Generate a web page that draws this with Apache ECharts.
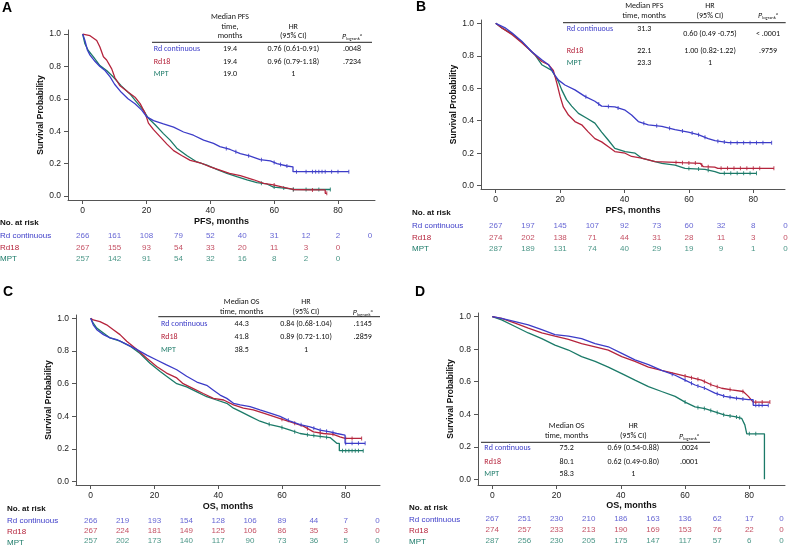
<!DOCTYPE html>
<html><head><meta charset="utf-8">
<script src="https://cdn.jsdelivr.net/npm/echarts@6/dist/echarts.min.js"></script>
<style>html,body{margin:0;padding:0;background:#fff}#c{width:789px;height:546px}</style>
</head><body><div id="c"></div>
<script>
const groups = ['Rd continuous','Rd18','MPT'];
const colors = ['#3c3cc8','#b5243c','#1b7a68'];
const xTicks = [0,20,40,60,80];
const yTicks = [0,0.2,0.4,0.6,0.8,1.0];
const riskMonths = [0,10,20,30,40,50,60,70,80,90];

// ---------- Panel A (PFS) ----------
const A_rd = [[0,1],[0.7,0.96],[1.5,0.90],[2.3,0.87],[3.9,0.83],[5.4,0.80],[7,0.775],[8.6,0.735],[10,0.69],[12.1,0.64],[14.2,0.60],[16.4,0.57],[18.5,0.53],[20,0.49],[22.2,0.465],[25.3,0.445],[28.5,0.425],[31.6,0.395],[34.7,0.375],[37.9,0.345],[41,0.325],[43,0.305],[46.2,0.287],[49.4,0.262],[52.5,0.246],[55.6,0.225],[58.8,0.217],[60.9,0.20],[64,0.185],[65.9,0.18],[65.9,0.15],[83.4,0.15]];
const A_rd18 = [[0,1],[2.3,0.99],[4.4,0.96],[5.4,0.92],[6.5,0.86],[7.5,0.84],[9.1,0.785],[10.1,0.73],[11.7,0.68],[14.3,0.64],[16.4,0.61],[18,0.57],[19.6,0.51],[20.6,0.45],[22.2,0.41],[24.3,0.365],[26.4,0.32],[28.5,0.28],[31,0.25],[33.7,0.22],[36.8,0.205],[40,0.18],[43,0.16],[46,0.14],[49.4,0.125],[53.6,0.10],[56.7,0.078],[59.8,0.068],[63,0.053],[66,0.04],[71.3,0.037],[76,0.037],[76,0.016],[76.5,0.016]];
const A_mpt = [[0,1],[0.7,0.94],[1.7,0.90],[3.3,0.86],[5.4,0.805],[7.5,0.775],[9.6,0.735],[12.1,0.68],[14.8,0.63],[16.9,0.58],[19,0.53],[20.6,0.48],[22.7,0.44],[25.3,0.385],[27.4,0.345],[29.5,0.295],[32.6,0.25],[35.8,0.21],[38.9,0.19],[42,0.164],[45.2,0.14],[48.3,0.12],[51.5,0.10],[54.6,0.082],[57.7,0.074],[59.8,0.055],[64,0.047],[66,0.04],[77.6,0.04]];
const A_cens = [[45,48,52,56,60,62,64,67,70,72,73,74,75,76,78,80,83.4],[60,66,72,76.5],[56,60,63,66,70,74,77.6]];
const A_risk = [[266,161,108,79,52,40,31,12,2,0],[267,155,93,54,33,20,11,3,0],[257,142,91,54,32,16,8,2,0]];
const A_median = ['19.4','19.4','19.0'];
const A_hr = ['0.76 (0.61-0.91)','0.96 (0.79-1.18)','1'];
const A_p = ['.0048','.7234',''];

// ---------- Panel B (PFS) ----------
const B_rd = [[0,1],[3.1,0.97],[5.1,0.94],[8.1,0.89],[11.2,0.825],[14.3,0.775],[16.4,0.745],[18.4,0.68],[19.5,0.65],[21.5,0.62],[24.6,0.59],[27.7,0.55],[30.8,0.52],[32.9,0.49],[37,0.485],[40.2,0.465],[42.2,0.435],[44.3,0.395],[47.4,0.375],[51.6,0.365],[55.7,0.345],[59.8,0.33],[62.9,0.315],[66,0.29],[68.1,0.277],[72.2,0.265],[85.7,0.265]];
const B_rd18 = [[0,1],[2,0.97],[5.1,0.93],[8.1,0.88],[11.2,0.825],[14.3,0.765],[16.4,0.745],[17.9,0.71],[19,0.63],[20,0.55],[21,0.485],[22.6,0.435],[24.6,0.395],[26.7,0.375],[28.8,0.33],[30.8,0.29],[32.9,0.27],[35,0.24],[37,0.21],[40.2,0.20],[42.2,0.18],[45.3,0.17],[49.5,0.148],[57.7,0.142],[63.5,0.138],[64.5,0.117],[68,0.115],[69,0.107],[86.4,0.107]];
const B_mpt = [[0,1],[2,0.97],[5.1,0.935],[8.1,0.885],[12.2,0.805],[14.3,0.745],[17.4,0.71],[19.5,0.64],[20.5,0.59],[22,0.53],[23.6,0.49],[25.7,0.445],[28.3,0.415],[30.8,0.385],[32.9,0.33],[35,0.28],[37,0.23],[40.2,0.21],[43.3,0.20],[45.3,0.17],[49.5,0.148],[51.6,0.138],[55.7,0.127],[58.8,0.107],[65,0.10],[68.1,0.086],[69.7,0.076],[81,0.076]];
const B_cens = [[28,32,35,38,46,50,54,58,61,63,65,69,71,73,75,77,79,81,83,85.7],[56,58,60,62,64,66,70,72,74,76,78,80,82,86.4],[60,63,66,71,73,75,77,79,81]];
const B_risk = [[267,197,145,107,92,73,60,32,8,0],[274,202,138,71,44,31,28,11,3,0],[287,189,131,74,40,29,19,9,1,0]];
const B_median = ['31.3','22.1','23.3'];
const B_hr = ['0.60 (0.49 -0.75)','1.00 (0.82-1.22)','1'];
const B_p = ['< .0001','.9759',''];

// ---------- Panel C (OS) ----------
const C_rd = [[0,1],[0.8,0.96],[1.9,0.93],[4,0.90],[6.1,0.88],[8.2,0.87],[11.3,0.84],[14.4,0.81],[17.6,0.775],[20.7,0.745],[23.8,0.715],[27,0.685],[30.1,0.645],[33.3,0.61],[36.4,0.59],[38.5,0.56],[40.6,0.53],[42.7,0.51],[44.8,0.48],[46.9,0.47],[50,0.46],[53.1,0.44],[56.3,0.42],[59.4,0.40],[62.6,0.37],[65.7,0.35],[68.8,0.335],[71.9,0.315],[75.1,0.305],[77.2,0.295],[79.8,0.285],[79.8,0.235],[86.1,0.235]];
const C_rd18 = [[0,1],[0.8,0.99],[2.9,0.98],[5,0.96],[7.1,0.93],[9.2,0.90],[11.3,0.86],[14.4,0.81],[17.6,0.755],[20.7,0.705],[23.8,0.665],[27,0.635],[29,0.60],[32.2,0.57],[35.3,0.54],[38.5,0.51],[41.7,0.50],[44.8,0.47],[47.9,0.45],[51,0.44],[54.2,0.42],[57.3,0.40],[60.4,0.38],[63.6,0.36],[66.7,0.34],[69.9,0.305],[73,0.295],[76.1,0.29],[78.2,0.275],[79.8,0.265],[85,0.265]];
const C_mpt = [[0,1],[0.8,0.97],[1.9,0.94],[4,0.91],[6.1,0.88],[9.2,0.86],[12.3,0.83],[15.5,0.785],[18.6,0.725],[21.8,0.675],[23.8,0.645],[27,0.60],[30.1,0.58],[33.3,0.55],[36.4,0.52],[39.5,0.50],[42.7,0.48],[44.8,0.45],[46.9,0.43],[50,0.40],[53.1,0.37],[56.3,0.35],[59.4,0.335],[62.6,0.315],[65.7,0.295],[68.8,0.285],[75.1,0.27],[77.2,0.235],[78,0.235],[78,0.19],[85.5,0.19]];
const C_cens = [[62,66,70,72,74,76,80,82,84,86.1],[60,64,68,72,76,80,82,85],[56,60,64,68,70,72,74,79,80,81,82,83,84,85.5]];
const C_risk = [[266,219,193,154,128,106,89,44,7,0],[267,224,181,149,125,106,86,35,3,0],[257,202,173,140,117,90,73,36,5,0]];
const C_median = ['44.3','41.8','38.5'];
const C_hr = ['0.84 (0.68-1.04)','0.89 (0.72-1.10)','1'];
const C_p = ['.1145','.2859',''];

// ---------- Panel D (OS) ----------
const D_rd = [[0,1],[2.9,0.99],[7.1,0.97],[11.2,0.95],[15.4,0.92],[19.5,0.89],[23.7,0.88],[27.8,0.865],[32,0.835],[36.1,0.815],[40.3,0.775],[44.4,0.735],[48.6,0.705],[52.7,0.67],[56.9,0.64],[60,0.61],[63.1,0.58],[66.2,0.56],[69.3,0.53],[72.4,0.51],[75.5,0.50],[79.7,0.49],[81.2,0.49],[81.2,0.455],[85.9,0.455]];
const D_rd18 = [[0,1],[2.9,0.99],[7.1,0.96],[11.2,0.93],[15.4,0.90],[19.5,0.88],[23.7,0.86],[27.8,0.835],[32,0.815],[36.1,0.795],[40.3,0.755],[44.4,0.725],[48.6,0.69],[52.7,0.67],[56.9,0.65],[61,0.63],[65.1,0.61],[68.3,0.58],[71.4,0.56],[74.5,0.55],[78.1,0.54],[79.7,0.51],[81.2,0.475],[86.4,0.475]];
const D_mpt = [[0,1],[2.9,0.98],[7.1,0.94],[11.2,0.90],[15.4,0.865],[19.5,0.825],[23.7,0.795],[27.8,0.755],[32,0.725],[36.1,0.69],[40.3,0.65],[44.4,0.61],[48.6,0.57],[52.7,0.54],[56.9,0.51],[60,0.475],[63.1,0.445],[66.2,0.435],[69.3,0.415],[72.4,0.395],[75.5,0.385],[77.6,0.375],[78.6,0.335],[79.2,0.28],[84.7,0.28],[84.7,0]];
const D_cens = [[56,60,62,64,66,70,72,74,76,78,82,83,84,85.9],[60,62,64,66,68,70,74,78,82,84,86.4],[60,64,66,68,70,72,74,76,77,80,82]];
const D_risk = [[267,251,230,210,186,163,136,62,17,0],[274,257,233,213,190,169,153,76,22,0],[287,256,230,205,175,147,117,57,6,0]];
const D_median = ['75.2','80.1','58.3'];
const D_hr = ['0.69 (0.54-0.88)','0.62 (0.49-0.80)','1'];
const D_p = ['.0024','.0001',''];

// ---------- layout (positions/styles only) ----------
const panels = [
  {letter:'A', lp:[2,8.5], curves:[A_rd,A_rd18,A_mpt], cens:A_cens, risk:A_risk, med:A_median, hr:A_hr, p:A_p,
   xName:'PFS, months', medHead:['Median PFS','time,','months'], medHeadY:[16.7,26.7,36], hrHeadY:[26.7,36], pY:37,
   grid:{left:68,top:30,width:307,height:170}, xr:[-4.6,91.6], yr:[-0.025,1.025],
   riskTop:230.5, riskH:34.5, rowLabelX:0, noRisk:[0,222.5],
   lineY:42.3, lineX:[152,372], labelX:153.7, colX:[230,293.3,352],
   rows:[[49.3,49.3,49.3,49.3],[62,62,62,62],[74.3,74.3,74.3,74.3]], xGap:17},
  {letter:'B', lp:[416,7.5], curves:[B_rd,B_rd18,B_mpt], cens:B_cens, risk:B_risk, med:B_median, hr:B_hr, p:B_p,
   xName:'PFS, months', medHead:['Median PFS','time, months'], medHeadY:[5.7,15.7], hrHeadY:[5.7,15.7], pY:16,
   grid:{left:481,top:20,width:304,height:169}, xr:[-4.57,89.85], yr:[-0.0203,1.0203],
   riskTop:219.9, riskH:35, rowLabelX:412, noRisk:[412,213],
   lineY:22.7, lineX:[563,785.7], labelX:566.7, colX:[644.3,710,768],
   rows:[[29,29,33.7,33.7],[51,51,51,51],[63.3,63.3,63.3,63.3]], xGap:17.5},
  {letter:'C', lp:[3,292.5], curves:[C_rd,C_rd18,C_mpt], cens:C_cens, risk:C_risk, med:C_median, hr:C_hr, p:C_p,
   xName:'OS, months', medHead:['Median OS','time, months'], medHeadY:[302.3,311.7], hrHeadY:[302.3,311.7], pY:313,
   grid:{left:76,top:315,width:304,height:170}, xr:[-4.61,90.76], yr:[-0.0202,1.0202],
   riskTop:515.6, riskH:32.6, rowLabelX:7, noRisk:[7,508.7],
   lineY:316.7, lineX:[158.3,380], labelX:161, colX:[241.7,306,362.7],
   rows:[[324.3,324.3,324.3,324.3],[337,337,337,337],[350,350,350,350]], xGap:17},
  {letter:'D', lp:[415,291.7], curves:[D_rd,D_rd18,D_mpt], cens:D_cens, risk:D_risk, med:D_median, hr:D_hr, p:D_p,
   xName:'OS, months', medHead:['Median OS','time, months'], medHeadY:[425.7,435.7], hrHeadY:[425.7,435.7], pY:437,
   grid:{left:478,top:313,width:307,height:172}, xr:[-4.45,91.1], yr:[-0.035,1.0228],
   riskTop:513.7, riskH:33.6, rowLabelX:409, noRisk:[409,507.3],
   lineY:442.3, lineX:[481,710], labelX:484.3, colX:[566.7,633.3,689],
   rows:[[448.3,448.3,448.3,448.3],[462,462,462,462],[474.3,474.3,474.3,474.3]], xGap:16}
];

const FONT = 'Liberation Sans, Arial, sans-serif';
const TFONT = 'Carlito, Lato, sans-serif';

function survAt(c, t) {
  for (let i = 0; i < c.length - 1; i++) {
    const x0 = c[i][0], y0 = c[i][1], x1 = c[i+1][0], y1 = c[i+1][1];
    if (x1 > x0 && t >= x0 && t <= x1) return y0 + (y1 - y0) * (t - x0) / (x1 - x0);
  }
  return c[c.length - 1][1];
}

const grid = [], xAxis = [], yAxis = [], series = [], graphic = [];
panels.forEach((P, pi) => {
  const gi = grid.length;
  grid.push(Object.assign({}, P.grid));
  xAxis.push({
    type:'value', gridIndex:gi, min:P.xr[0], max:P.xr[1],
    axisLine:{show:true, onZero:false, lineStyle:{color:'#555', width:1}},
    axisTick:{show:true, length:4, customValues:xTicks, lineStyle:{color:'#555'}},
    axisLabel:{customValues:xTicks, fontSize:8.5, color:'#222', margin:6, fontFamily:FONT},
    splitLine:{show:false},
    name:P.xName, nameLocation:'middle', nameGap:P.xGap,
    nameTextStyle:{fontWeight:'bold', fontSize:9, color:'#111', fontFamily:FONT}
  });
  yAxis.push({
    type:'value', gridIndex:gi, min:P.yr[0], max:P.yr[1],
    axisLine:{show:true, onZero:false, lineStyle:{color:'#555', width:1}},
    axisTick:{show:true, length:4, customValues:yTicks, lineStyle:{color:'#555'}},
    axisLabel:{customValues:yTicks, fontSize:8.5, color:'#222', margin:7, fontFamily:FONT, formatter:v=>v.toFixed(1)},
    splitLine:{show:false},
    name:'Survival Probability', nameLocation:'middle', nameGap:22,
    nameTextStyle:{fontWeight:'bold', fontSize:8.5, color:'#111', fontFamily:FONT}
  });
  P.curves.forEach((c, k) => {
    series.push({type:'line', xAxisIndex:gi, yAxisIndex:gi, data:c, showSymbol:false, symbol:'none',
      lineStyle:{color:colors[k], width:1.3}, itemStyle:{color:colors[k]}, z:6-k, animation:false, silent:true});
    series.push({type:'scatter', xAxisIndex:gi, yAxisIndex:gi, symbol:'rect', symbolSize:[1,4],
      data:P.cens[k].map(t => [t, survAt(c, t)]), itemStyle:{color:colors[k], opacity:0.85}, animation:false, silent:true, z:4});
  });
  // at-risk grid
  const ri = grid.length;
  grid.push({left:P.grid.left, width:P.grid.width, top:P.riskTop, height:P.riskH});
  xAxis.push({type:'value', gridIndex:ri, min:P.xr[0], max:P.xr[1], show:false});
  yAxis.push({type:'category', gridIndex:ri, data:groups, inverse:true, show:false});
  P.risk.forEach((arr, k) => {
    series.push({type:'scatter', xAxisIndex:ri, yAxisIndex:ri, symbolSize:1, clip:false,
      itemStyle:{color:'rgba(0,0,0,0)'},
      data:arr.map((n, i) => [riskMonths[i], groups[k], n]),
      label:{show:true, position:'inside', formatter:p => String(p.value[2]), color:colors[k], fontSize:8, fontFamily:FONT},
      animation:false, silent:true});
  });
  // texts
  graphic.push({type:'text', x:P.lp[0], y:P.lp[1], style:{text:P.letter, font:'bold 14px '+FONT, fill:'#000', verticalAlign:'middle'}});
  graphic.push({type:'text', x:P.noRisk[0], y:P.noRisk[1], style:{text:'No. at risk', font:'bold 8px '+FONT, fill:'#111', verticalAlign:'middle'}});
  groups.forEach((g, k) => {
    const rowY = P.riskTop + P.riskH / 6 * (2 * k + 1);
    graphic.push({type:'text', x:P.rowLabelX, y:rowY, style:{text:g, font:'8px '+FONT, fill:colors[k], verticalAlign:'middle'}});
  });
  // summary table
  P.medHead.forEach((t, i) => graphic.push({type:'text', x:P.colX[0], y:P.medHeadY[i], style:{text:t, font:'8px '+TFONT, fill:'#111', align:'center', verticalAlign:'middle'}}));
  ['HR','(95% CI)'].forEach((t, i) => graphic.push({type:'text', x:P.colX[1], y:P.hrHeadY[i], style:{text:t, font:'8px '+TFONT, fill:'#111', align:'center', verticalAlign:'middle'}}));
  graphic.push({type:'text', x:P.colX[2], y:P.pY, style:{text:'{p|P}{s|logrank}{a|a}', align:'center', verticalAlign:'middle', fill:'#111',
    rich:{p:{fontStyle:'italic', fontSize:8, fontFamily:TFONT, fill:'#111'}, s:{fontSize:4.5, fontFamily:TFONT, padding:[4,0,0,0], fill:'#111'}, a:{fontSize:4.5, fontFamily:TFONT, padding:[0,0,5,0], fill:'#111'}}}});
  graphic.push({type:'line', shape:{x1:P.lineX[0], y1:P.lineY, x2:P.lineX[1], y2:P.lineY}, style:{stroke:'#222', lineWidth:1}});
  groups.forEach((g, k) => {
    const r = P.rows[k];
    graphic.push({type:'text', x:P.labelX, y:r[0], style:{text:g, font:'8px '+TFONT, fill:colors[k], verticalAlign:'middle'}});
    graphic.push({type:'text', x:P.colX[0], y:r[1], style:{text:P.med[k], font:'8px '+TFONT, fill:'#111', align:'center', verticalAlign:'middle'}});
    graphic.push({type:'text', x:P.colX[1], y:r[2], style:{text:P.hr[k], font:'8px '+TFONT, fill:'#111', align:'center', verticalAlign:'middle'}});
    if (P.p[k]) graphic.push({type:'text', x:P.colX[2], y:r[3], style:{text:P.p[k], font:'8px '+TFONT, fill:'#111', align:'center', verticalAlign:'middle'}});
  });
});

const chart = echarts.init(document.getElementById('c'), null, {renderer:'canvas'});
chart.setOption({animation:false, backgroundColor:'#fff', textStyle:{fontFamily:FONT}, grid, xAxis, yAxis, series, graphic});
</script></body></html>
